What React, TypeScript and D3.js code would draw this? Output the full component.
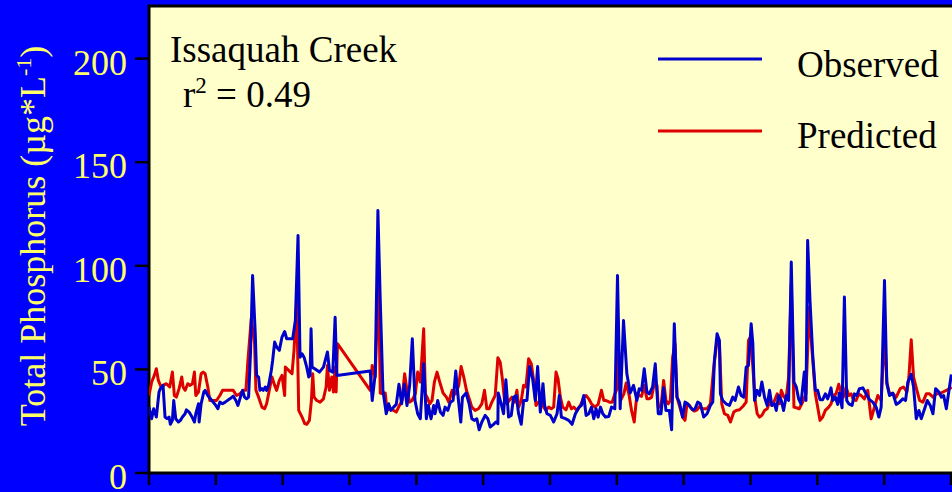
import * as d3 from "d3";

const WIDTH = 952;
const HEIGHT = 492;
const PLOT = { left: 149, top: 6, right: 960, bottom: 473 };

// x = sampling day (tick every 100), y = total phosphorus in µg/L
const observed: [number, number][] = [
  [0, 31.8], [4, 26.2], [7, 31], [11, 27], [15, 39.1], [17, 40.7], [21, 42.3], [24, 27], [27, 26.2], [30, 27],
  [32, 23.5], [35, 25.4], [37, 35], [40, 26.2], [44, 24.6], [47, 25.4], [50, 27], [54, 28.6], [56, 30.5], [60, 29.4],
  [64, 27.3], [68, 24.6], [70, 28.6], [74, 33.4], [75, 24.6], [78, 33.4], [82, 39.1], [84, 39.9], [88, 37.4], [94, 35],
  [99, 33.1], [103, 31], [106, 34.2], [110, 33.4], [114, 34.2], [121, 35.8], [126, 37.1], [130, 35], [133, 32.6], [136, 35.8],
  [140, 39.9], [143, 36.6], [146, 35.8], [149, 36.6], [152, 59.2], [155, 95.3], [159, 67.2], [161, 47.1], [164, 46.3], [166, 39.9],
  [169, 40.7], [171, 39.9], [174, 41.5], [176, 39.9], [179, 42.3], [183, 49.5], [185, 54.3], [188, 63.2], [191, 60.8], [195, 59.2],
  [199, 65.6], [203, 68.3], [206, 64.8], [215, 64.8], [219, 73.6], [223, 114.6], [226, 55.9], [229, 57.5], [232, 55.9], [236, 51.1],
  [239, 46.3], [241, 47.1], [242.5, 69.6], [244, 51.1], [248, 50.3], [255, 48.7], [261, 51.1], [267, 58.4], [270, 49.5], [275, 48.7],
  [278.5, 75.2], [281, 47.1], [331, 49.2], [334, 35], [338.5, 47.9], [342.5, 126.7], [346, 83.3], [350, 39.9], [355, 28.6], [358.5, 33.4],
  [362, 30.2], [366, 31.8], [370, 33.1], [374, 42.8], [378, 33.4], [382, 42.8], [386, 32.6], [390, 42.3], [394, 64.8], [398, 35],
  [402, 28.6], [406, 26.2], [411, 52.7], [415, 26.2], [418, 32.6], [422, 26.2], [426, 32.6], [428, 28.6], [432, 35], [436, 29.4],
  [440, 27.8], [443, 31.8], [447, 30.2], [451, 34.2], [455, 35], [459, 49.2], [463, 35], [466.5, 24.6], [469, 36.6], [474.5, 38.6],
  [479, 33.4], [483, 26.2], [487, 25.4], [490.5, 26.2], [494, 20.9], [498, 24.6], [503, 27.8], [507, 26.2], [510.5, 22.2], [515.5, 23.5],
  [519, 24.6], [522, 23.8], [522.5, 38.6], [527, 33.4], [530.5, 28.6], [534, 45], [538, 27], [542, 27.8], [545.5, 36.6], [549.5, 37.4],
  [553, 28.6], [557, 23.5], [560.5, 35], [565.5, 35], [569.5, 51.4], [574, 45.5], [578, 35], [581.5, 51.4], [585.5, 29.4], [589.5, 43.1],
  [592, 32.6], [595.5, 28.6], [600.5, 27.8], [605.5, 24.6], [610.5, 28.6], [614, 37.4], [617, 27], [623, 26.2], [628, 25.4], [633, 23.5],
  [638, 28.6], [643, 31.5], [647, 32.6], [650.5, 37.4], [654, 27.8], [658, 28.6], [662, 31.8], [665.5, 26.2], [669, 31], [672, 27],
  [675.5, 31.8], [679, 28.6], [683, 27], [688, 27.3], [692, 31.8], [697, 31], [701, 95.3], [705, 31], [710, 73.6], [715, 47.9],
  [720, 38.6], [725, 42.3], [730, 35], [733.5, 40.7], [737, 39.9], [741, 50.3], [745, 39.1], [748.5, 38.2], [753.5, 41.5], [757.5, 52.7],
  [762, 28.6], [766, 28.6], [770, 41.1], [773.5, 30.2], [778.5, 30.2], [782, 20.9], [786, 72], [790, 36.6], [793.5, 34.2], [798.5, 27],
  [802, 34.2], [806, 33.4], [810, 31.8], [813.5, 30.5], [817, 31], [821, 34.2], [825, 33.4], [830, 27], [835, 28.6], [840, 32.6],
  [843.5, 34.2], [846, 54.3], [850, 67.2], [853.5, 64], [855, 38.2], [858.5, 35], [863.5, 33.4], [868.5, 32.6], [873.5, 36.6], [877, 35],
  [882, 41.5], [886, 37.4], [890, 36.6], [893.5, 51.1], [897, 51.9], [901, 72], [903.5, 62.4], [906, 35], [910, 39.9], [913.5, 37.4],
  [917, 43.9], [921, 36.6], [925, 32.6], [928.5, 39.9], [932, 32.6], [936, 33.4], [938.5, 30.2], [942, 37.4], [946, 35], [949.5, 30.2],
  [953.5, 37.4], [957, 35], [961, 101.8], [965, 43.9], [968.5, 41.5], [972, 35.8], [975.5, 33.4], [980.5, 48.7], [983, 35], [985.5, 112.2],
  [989, 83.3], [993, 57.5], [997, 39.9], [1000.5, 39.9], [1004, 35.4], [1008, 35.4], [1012, 38.2], [1015.5, 35.8], [1018, 38.2], [1020.5, 41.1],
  [1023, 35], [1027, 36.6], [1030.5, 33.1], [1033, 38.6], [1037, 31.5], [1040.5, 84.9], [1044, 35], [1047, 33.4], [1052, 32.6], [1055.5, 38.2],
  [1059, 37.4], [1063, 40.7], [1068, 41.1], [1073, 38.2], [1078, 35.4], [1083, 34.2], [1088, 31.8], [1092, 27], [1095.5, 31.8], [1100.5, 92.9],
  [1104, 43.1], [1108, 37.4], [1113, 38.6], [1118, 33.1], [1123, 34.2], [1128, 35.8], [1132, 35], [1135.5, 43.9], [1140.5, 47.6], [1144, 41.5],
  [1148, 26.2], [1152, 30.2], [1155.5, 26.2], [1160.5, 31], [1164.5, 35], [1169, 32.6], [1173, 28.6], [1177, 40.7], [1182, 39.1], [1185.5, 36.6],
  [1189, 37.4], [1193, 31], [1197, 39.9], [1200.5, 47.6],
];

const predicted: [number, number][] = [
  [0, 37.4], [4, 43.9], [8, 47.1], [11, 50.3], [14, 44.7], [18, 41.5], [21, 42.3], [26, 43.1], [31, 41.5], [35, 48.7],
  [38, 37.4], [41, 36.6], [45, 40.7], [49, 46.3], [51, 41.5], [54, 39.9], [58, 43.1], [61, 42.3], [65, 43.1], [68, 48.7],
  [70, 37.4], [74, 39.1], [78, 47.9], [81, 48.7], [84, 47.9], [88, 41.5], [91, 35], [96, 35], [101, 35], [106, 37.4],
  [110, 39.9], [116, 39.9], [126, 39.9], [131, 37.4], [136, 38.2], [141, 39.9], [145, 39.9], [148, 54.3], [153, 74.4], [158, 62.4],
  [160, 39.9], [164, 36.6], [169, 31.8], [173, 31], [176, 33.4], [180, 39.9], [184, 46.3], [188, 42.3], [191, 39.9], [195, 44.7],
  [199, 47.1], [203, 37.4], [204, 51.1], [209, 49.5], [214, 47.9], [217, 59.2], [221, 83.3], [224, 30.2], [229, 27], [233, 23.8],
  [236, 23.5], [240, 25.4], [243, 35], [245, 47.9], [247, 36.6], [251, 35], [256, 34.2], [261, 35.8], [265, 41.5], [267, 51.9],
  [270, 39.9], [273.5, 46.3], [276, 39.1], [278.5, 51.1], [280, 39.1], [282, 62.4], [331, 39.9], [334, 51.9], [338.5, 46.3], [343.5, 96.1],
  [346, 38.6], [350, 38.2], [353.5, 38.6], [356, 30.2], [361, 31], [366, 30.2], [370, 29.4], [373.5, 31.8], [378.5, 35], [382.5, 47.9],
  [386, 39.9], [390, 34.2], [393.5, 35], [398.5, 38.2], [402, 48.7], [406, 43.9], [411, 69.6], [413.5, 38.2], [416, 36.6], [420, 33.4],
  [423.5, 35], [427, 43.9], [431, 48.7], [435, 43.9], [440, 38.6], [445, 36.6], [448.5, 34.2], [453.5, 39.9], [458.5, 38.2], [463.5, 42.3],
  [467, 51.4], [471, 46.3], [475, 39.9], [480, 35], [483, 31.8], [488, 30.2], [493, 31], [498, 33.4], [502, 39.9], [505.5, 31],
  [509, 31], [513, 34.2], [518, 37.4], [522, 55.6], [525.5, 53.5], [529, 44.7], [532, 35], [535.5, 33.4], [539, 35], [543, 36.6],
  [547, 34.2], [550.5, 39.9], [553, 31.8], [557, 35], [560.5, 42.3], [564, 41.5], [568, 55.1], [572, 52.7], [575.5, 44.7], [579, 32.6],
  [583, 34.2], [587, 36.6], [590.5, 31.8], [594, 30.2], [598, 31.8], [602, 31], [605.5, 31.8], [609, 48.7], [612, 45.5], [615.5, 36.6],
  [619, 31.8], [624, 30.5], [628, 34.2], [632, 31], [635.5, 31.8], [640.5, 30.2], [645.5, 32.6], [650.5, 36.6], [654, 37.4], [658, 35.8],
  [662, 33.4], [667, 31.8], [672, 33.1], [677, 39.9], [680.5, 35], [684, 35], [689, 34.2], [693, 34.2], [697, 38.2], [700.5, 40.7],
  [703, 58.4], [705.5, 35], [710.5, 38.2], [714, 43.4], [718, 38.2], [722, 30.2], [726, 24.6], [730, 38.2], [733.5, 37.4], [737, 37],
  [741, 42.3], [745, 35.8], [748.5, 35.8], [752, 36.6], [756, 43.1], [760, 42.3], [762, 31.8], [766, 31.8], [770, 44.7], [773.5, 35],
  [777, 33.4], [780, 35], [783.5, 55.9], [787, 62.4], [790, 36.6], [793.5, 32.6], [798.5, 27], [802, 25.4], [805, 33.4], [808.5, 32.6],
  [812, 31], [816, 29.9], [820, 30.5], [823.5, 32.1], [827, 31], [831, 31], [835, 31], [840, 33.4], [845, 51.1], [850, 64],
  [853.5, 62.4], [857, 33.4], [861, 28.6], [866, 27.8], [870, 24.6], [875, 29.4], [878.5, 30.2], [883.5, 30.5], [888.5, 32.1], [893.5, 34.2],
  [897, 64], [900, 65.6], [903.5, 51.1], [907, 35], [910, 28.6], [913.5, 27], [917, 27.8], [921, 30.2], [925, 31], [928.5, 34.2],
  [932, 32.6], [936, 35], [940, 38.2], [943.5, 33.4], [946, 39.9], [950, 36.6], [953.5, 36.6], [957, 46.3], [961, 91.3], [965, 31.8],
  [968.5, 31.5], [973, 31], [978, 34.2], [983, 38.2], [988, 80], [992, 59.2], [997, 38.2], [1000.5, 31.8], [1004, 25.4], [1008, 27],
  [1012, 30.2], [1017, 31.8], [1020.5, 33.4], [1024, 37.4], [1028, 38.2], [1032, 42.8], [1035.5, 39.1], [1039, 36.6], [1043, 41.5], [1047, 37.4],
  [1050.5, 38.2], [1054, 35.4], [1058, 35], [1062, 38.2], [1065.5, 37.4], [1070.5, 35.8], [1075.5, 39.9], [1080.5, 26.2], [1085.5, 31.8], [1090.5, 37.4],
  [1095.5, 35], [1100.5, 67.2], [1104, 43.9], [1108, 38.2], [1113, 38.2], [1118, 36.6], [1124, 40.7], [1129, 41.5], [1134, 39.1], [1137, 46.3],
  [1140.5, 64.3], [1144, 46.3], [1149, 39.9], [1153, 35], [1158, 34.2], [1163, 38.2], [1168, 38.2], [1173, 36.6], [1178, 38.2], [1183, 38.2],
  [1188, 39.1], [1193, 39.9], [1198, 40.7], [1201, 41.5],
];

const yTicks = [0, 50, 100, 150, 200];
const xTicks = [0, 100, 200, 300, 400, 500, 600, 700, 800, 900, 1000, 1100, 1200];

const SITE = "Issaquah Creek";
const R2 = "0.49";

const BG = "#0000FF";
const PLOT_BG = "#FFFFCC";
const LABEL = "#FFFF66";
const OBS_COLOR = "#0000CC";
const PRED_COLOR = "#DD0000";
const FONT = "'Liberation Serif', 'Times New Roman', serif";

export default function App() {
  const xScale = d3.scaleLinear().domain([0, 1200]).range([PLOT.left, 951]);
  const yScale = d3.scaleLinear().domain([0, 200]).range([PLOT.bottom, 58.6]);

  const line = d3
    .line<[number, number]>()
    .x((d) => xScale(d[0]))
    .y((d) => yScale(d[1]));

  return (
    <svg
      width={WIDTH}
      height={HEIGHT}
      style={{ position: "absolute", left: 0, top: 0, display: "block" }}
      fontFamily={FONT}
    >
      <defs>
        <clipPath id="plot-clip">
          <rect
            x={PLOT.left}
            y={PLOT.top}
            width={PLOT.right - PLOT.left}
            height={PLOT.bottom - PLOT.top}
          />
        </clipPath>
      </defs>
      <rect width={WIDTH} height={HEIGHT} fill={BG} />
      <rect
        x={PLOT.left}
        y={PLOT.top}
        width={PLOT.right - PLOT.left}
        height={PLOT.bottom - PLOT.top}
        fill={PLOT_BG}
        stroke="#000"
        strokeWidth={3}
      />

      {/* series */}
      <g clipPath="url(#plot-clip)" fill="none" strokeWidth={3} strokeLinejoin="round">
        <path d={line(predicted) ?? ""} stroke={PRED_COLOR} />
        <path d={line(observed) ?? ""} stroke={OBS_COLOR} />
      </g>

      {/* y axis */}
      {yTicks.map((v) => (
        <g key={v}>
          <line x1={135} x2={PLOT.left} y1={yScale(v)} y2={yScale(v)} stroke="#000" strokeWidth={2.5} />
          <text x={127} y={yScale(v) + 16} textAnchor="end" fontSize={36} fill={LABEL}>
            {v}
          </text>
        </g>
      ))}

      {/* x axis ticks */}
      {xTicks.map((v) => (
        <line
          key={v}
          x1={xScale(v)}
          x2={xScale(v)}
          y1={PLOT.bottom}
          y2={PLOT.bottom + 12}
          stroke="#000"
          strokeWidth={2.5}
        />
      ))}

      <text
        transform="translate(45,236) rotate(-90)"
        textAnchor="middle"
        fontSize={36}
        fill={LABEL}
      >
        Total Phosphorus (µg*L
        <tspan fontSize={22} dy={-14}>-1</tspan>
        <tspan dy={14}>)</tspan>
      </text>

      {/* annotation */}
      <text x={170} y={62} fontSize={37} fill="#000">
        {SITE}
      </text>
      <text x={183} y={107} fontSize={37} fill="#000">
        r<tspan fontSize={23} dy={-14}>2</tspan>
        <tspan dy={14}> = {R2}</tspan>
      </text>

      {/* legend */}
      <line x1={658} x2={762} y1={59} y2={59} stroke={OBS_COLOR} strokeWidth={3} />
      <text x={797} y={77} fontSize={37} fill="#000">
        Observed
      </text>
      <line x1={658} x2={762} y1={131} y2={131} stroke={PRED_COLOR} strokeWidth={3} />
      <text x={797} y={148} fontSize={37} fill="#000">
        Predicted
      </text>
    </svg>
  );
}
